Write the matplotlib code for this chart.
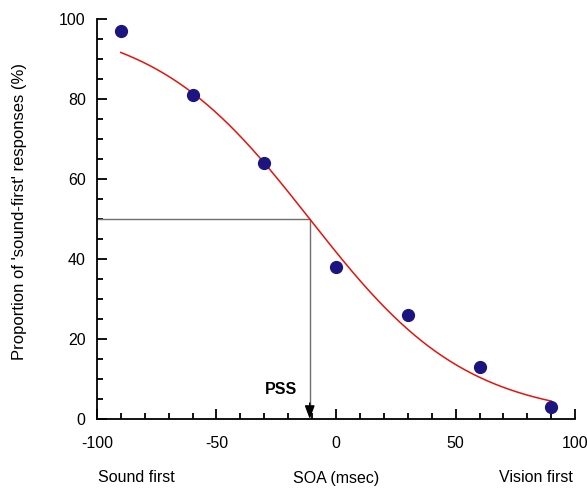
import numpy as np
import matplotlib
matplotlib.use("Agg")
import matplotlib.pyplot as plt
from matplotlib.ticker import MultipleLocator

plt.rcParams['font.family'] = ['Liberation Sans', 'DejaVu Sans']
plt.rcParams['axes.unicode_minus'] = False

# Observed proportions of 'sound-first' responses at each SOA
soa = [-90, -60, -30, 0, 30, 60, 90]
prop_sound_first = [97, 81, 64, 38, 26, 13, 3]

# Logistic fit parameters (point of subjective simultaneity, spread)
pss = -11.0
spread = 33.0

fig = plt.figure(figsize=(5.87, 4.88), dpi=100)
ax = fig.add_axes([0.165, 0.1414, 0.815, 0.8196])

xs = np.linspace(min(soa), max(soa), 300)
fit = 100.0 / (1.0 + np.exp((xs - pss) / spread))
ax.plot(xs, fit, color='#e8120c', lw=1.1, zorder=3)

ax.plot(soa, prop_sound_first, 'o', color='#1c1580', ms=8.5, zorder=4, clip_on=False)

# PSS guide lines: grey lines, black arrowhead on the axis
ax.plot([-100, pss, pss], [50, 50, 3], color='#6e6e6e', lw=1.0, zorder=2)
ax.annotate('', xy=(pss, 0), xytext=(pss, 4),
            arrowprops=dict(arrowstyle='-|>,head_length=0.8,head_width=0.3',
                            lw=1.0, fc='black', ec='black',
                            shrinkA=0, shrinkB=0), zorder=2)
ax.text(-16.3, 7.3, 'PSS', fontsize=11.5, fontweight='bold', ha='right', va='center')

ax.set_xlim(-100, 100)
ax.set_ylim(0, 100)
ax.spines['top'].set_visible(False)
ax.spines['right'].set_visible(False)
for s in ('left', 'bottom'):
    ax.spines[s].set_linewidth(1.3)

ax.xaxis.set_major_locator(MultipleLocator(50))
ax.xaxis.set_minor_locator(MultipleLocator(10))
ax.yaxis.set_major_locator(MultipleLocator(20))
ax.yaxis.set_minor_locator(MultipleLocator(5))
ax.tick_params(which='both', direction='in', width=1.3)
ax.tick_params(which='major', length=7, labelsize=11.5)
ax.tick_params(which='minor', length=4)
ax.tick_params(axis='x', which='major', pad=12)
ax.tick_params(axis='y', which='major', pad=8)

fig.text(20 / 587, 1 - 212 / 488, "Proportion of 'sound-first' responses (%)",
         fontsize=12, rotation=90, ha='center', va='center')

fig.text(98 / 587, 1 - 478 / 488, 'Sound first', fontsize=11.5, ha='left', va='center')
fig.text(336.5 / 587, 1 - 478 / 488, 'SOA (msec)', fontsize=11.5, ha='center', va='center')
fig.text(573 / 587, 1 - 478 / 488, 'Vision first', fontsize=11.5, ha='right', va='center')

fig.savefig('out.png', dpi=100)
